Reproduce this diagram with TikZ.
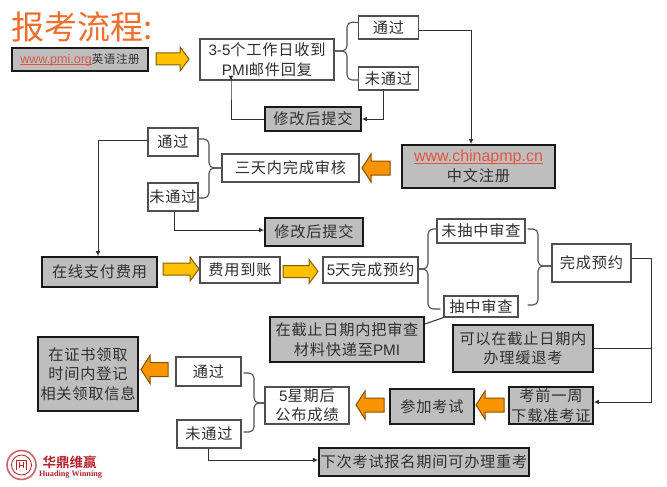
\documentclass[tikz,border=0pt]{standalone}
\usepackage{fontspec}
\setmainfont{Noto Sans CJK SC}[LetterSpace=5]
\newfontfamily\lat{Liberation Sans}
\newfontfamily\titlefont{Noto Sans CJK SC}[BoldFont=Noto Sans CJK SC Bold]
\newfontfamily\logofont{Noto Sans CJK SC}[BoldFont=Noto Sans CJK SC Bold]
\newfontfamily\logolat{Liberation Serif}
\usetikzlibrary{arrows.meta,calc}
\definecolor{boxgray}{HTML}{BEBEBE}
\definecolor{ink}{HTML}{303030}
\definecolor{linkred}{HTML}{E2553F}
\definecolor{yellowarrow}{HTML}{FFC000}
\definecolor{orangearrow}{HTML}{F79400}
\definecolor{titleorange}{HTML}{EE6F2D}
\definecolor{logored}{HTML}{B5222D}
\tikzset{
  x=1pt,y=-1pt,
  base/.style={align=center,inner sep=0pt,text=ink,font=\fontsize{15.2}{19.5}\selectfont},
  whitebox/.style={base,draw=ink!85,line width=1.1pt,fill=white},
  graybox/.style={base,draw=black!90,line width=1.9pt,fill=boxgray},
  yarrow/.style={draw=yellowarrow!50!black,line width=1pt,fill=yellowarrow,line join=miter},
  oarrow/.style={draw=orangearrow!55!black,line width=1pt,fill=orangearrow,line join=miter},
  conn/.style={draw=ink,line width=1pt},
  arr/.style={conn,-{Latex[length=5pt,width=5pt]}},
  bracel/.style={draw=ink!85,line width=1.1pt,rounded corners=5pt},
}
\newcommand{\linktext}[2]{{\lat\fontsize{#1}{19}\selectfont\color{linkred}\setbox0=\hbox{#2}\rlap{\rule[-1.5pt]{\wd0}{0.7pt}}\box0}}
% right-pointing block arrow: x1, x2 (tip), centre y
\newcommand{\rightblock}[3]{\draw[yarrow] (#1,#3-6) -- (#2-9,#3-6) -- (#2-9,#3-12) -- (#2,#3) -- (#2-9,#3+12) -- (#2-9,#3+6) -- (#1,#3+6) -- cycle;}
% left-pointing block arrow: x1 (tip), x2, centre y
\newcommand{\leftblock}[3]{\draw[oarrow] (#2,#3-7) -- (#1+9,#3-7) -- (#1+9,#3-14) -- (#1,#3) -- (#1+9,#3+14) -- (#1+9,#3+7) -- (#2,#3+7) -- cycle;}
\begin{document}
\begin{tikzpicture}
\useasboundingbox (0,0) rectangle (667,487);
\fill[white] (0,0) rectangle (667,487);

\node[text=titleorange,inner sep=0pt,font=\fontsize{33}{33}\selectfont\titlefont] (title) at (82,27) {报考流程:};

\node[graybox,minimum width=136pt,minimum height=23pt] (pmi) at (80,59.5) {\linktext{12.5}{www.pmi.org}\fontsize{11.5}{14}\selectfont 英语注册};
\rightblock{156}{189}{59}
\node[whitebox,minimum width=134pt,minimum height=41pt] (n35) at (267,59.5) {{\lat 3-5}个工作日收到\\{\lat PMI}邮件回复};
\node[whitebox,minimum width=60pt,minimum height=23pt] (pass1) at (388.5,27.5) {通过};
\node[whitebox,minimum width=60pt,minimum height=23pt] (fail1) at (388.5,78.5) {未通过};
\node[graybox,minimum width=96pt,minimum height=24pt] (fix1) at (313,119) {修改后提交};
\node[graybox,minimum width=153pt,minimum height=43pt] (china) at (478.5,166.5) {\linktext{16}{www.chinapmp.cn}\\中文注册};
\leftblock{362}{390}{168}
\node[whitebox,minimum width=137pt,minimum height=28pt] (audit) at (290.5,168) {三天内完成审核};
\node[whitebox,minimum width=50pt,minimum height=28pt] (pass2) at (173,142) {通过};
\node[whitebox,minimum width=50pt,minimum height=28pt] (fail2) at (173,197) {未通过};
\node[graybox,minimum width=98pt,minimum height=28pt] (fix2) at (314,232) {修改后提交};
\node[graybox,minimum width=115pt,minimum height=30pt] (pay) at (99.5,272) {在线支付费用};
\rightblock{163}{199}{269}
\node[whitebox,minimum width=80pt,minimum height=26pt] (paid) at (240,270) {费用到账};
\rightblock{283}{318}{271.5}
\node[whitebox,minimum width=95pt,minimum height=26pt] (book5) at (370.5,270) {{\lat 5}天完成预约};
\node[whitebox,minimum width=88pt,minimum height=24pt] (nodraw) at (481,231) {未抽中审查};
\node[whitebox,minimum width=74pt,minimum height=21pt] (draw) at (481,306.5) {抽中审查};
\node[whitebox,minimum width=79pt,minimum height=38pt] (done) at (591.5,263) {完成预约};
\node[graybox,minimum width=154pt,minimum height=45pt] (mail) at (347,339.5) {在截止日期内把审查\\材料快递至{\lat PMI}};
\node[graybox,minimum width=140pt,minimum height=47pt] (defer) at (523,348.5) {可以在截止日期内\\办理缓退考};
\node[graybox,minimum width=84pt,minimum height=37pt] (ticket) at (551,405.5) {考前一周\\下载准考证};
\leftblock{476}{504}{405}
\node[graybox,minimum width=84pt,minimum height=35pt] (exam) at (432,406.5) {参加考试};
\leftblock{356}{384}{405}
\node[whitebox,minimum width=84pt,minimum height=37pt] (result) at (307,405.5) {{\lat 5}星期后\\公布成绩};
\node[whitebox,minimum width=65pt,minimum height=29pt] (pass3) at (208.5,371.5) {通过};
\node[whitebox,minimum width=64pt,minimum height=28pt] (fail3) at (209,434) {未通过};
\leftblock{141}{168}{369.5}
\node[graybox,minimum width=100pt,minimum height=74pt] (cert) at (88,374) {在证书领取\\时间内登记\\相关领取信息};
\node[graybox,minimum width=210pt,minimum height=28pt] (retake) at (424,462) {下次考试报名期间可办理重考};

% connectors
\draw[arr] (pass1.east) ++(0,3.5) -| (china.north-|471,0);
\draw[arr] (fail1.south) ++(-5,0) |- (fix1.east);
\draw[arr] (fix1.west) -| (231,80) -- (n35.south-|231,0);
\coordinate (p2l) at (98,140);
\draw[arr] (pass2.west) ++(0,-2) -- (p2l) -- (pay.north-|p2l);
\coordinate (f2c) at (174,230);
\draw[arr] (fail2.south) ++(1,0) -- (f2c) -- (fix2.west|-f2c);
\coordinate (dr) at (651,258);
\draw[arr] (done.east|-dr) -- (dr) -- (651,402) -- (ticket.east|-0,402);
\draw[conn] (defer.east) -- (defer.east-|dr);
\draw[conn] (mail.east) ++(0,-15.5) -- (draw.south west);
\coordinate (f3c) at (208,460);
\draw[arr] (fail3.south) ++(-1,0) -- (f3c) -- (retake.west|-f3c);

% braces
\begin{scope}[bracel]
\draw (pass1.west) ++(0,-5) -- (347,22) -- (347,51) -- (334,51);
\draw (fail1.west) ++(0,1.5) -- (347,80) -- (347,51) -- (334,51);
\draw (pass2.east) ++(0,-3) -- (209,139) -- (209,168) -- (audit.west);
\draw (fail2.east) ++(0,1) -- (209,198) -- (209,168) -- (audit.west);
\draw (nodraw.west) ++(0,-2) -- (428,229) -- (428,269) -- (book5.east|-0,269);
\draw (draw.west) ++(-3,2.5) -- (428,309) -- (428,269) -- (book5.east|-0,269);
\draw (nodraw.east) ++(2,-2) -- (538,229) -- (538,266) -- (done.west|-0,266);
\draw (draw.east) ++(9,-1.5) -- (538,305) -- (538,266) -- (done.west|-0,266);
\draw (pass3.east) ++(2,1.5) -- (254,373) -- (254,403) -- (result.west|-0,403);
\draw (fail3.east) ++(2,-2) -- (254,432) -- (254,403) -- (result.west|-0,403);
\end{scope}

% logo
\node[draw=logored!70,line width=1.6pt,circle,minimum size=29pt,inner sep=0pt] (logoa) at (21.5,465) {};
\node[draw=logored,line width=.8pt,circle,minimum size=20pt,inner sep=0pt] (logob) at (logoa) {};
\draw[logored,line width=.8pt] (16.5,470) -- (16.5,460) -- (26.5,460) -- (26.5,470) (19.5,468) -- (19.5,462) (23.5,468) -- (23.5,462) (19.5,465) -- (23.5,465);
\node[text=logored,inner sep=0pt,font=\fontsize{13.5}{14}\selectfont\logofont\bfseries] (logoc) at (69.5,462) {华鼎维赢};
\node[text=logored,inner sep=0pt,font=\fontsize{8.2}{9}\selectfont\logolat\bfseries] (logod) at (70.5,474.5) {Huading Winning};
\end{tikzpicture}
\end{document}
